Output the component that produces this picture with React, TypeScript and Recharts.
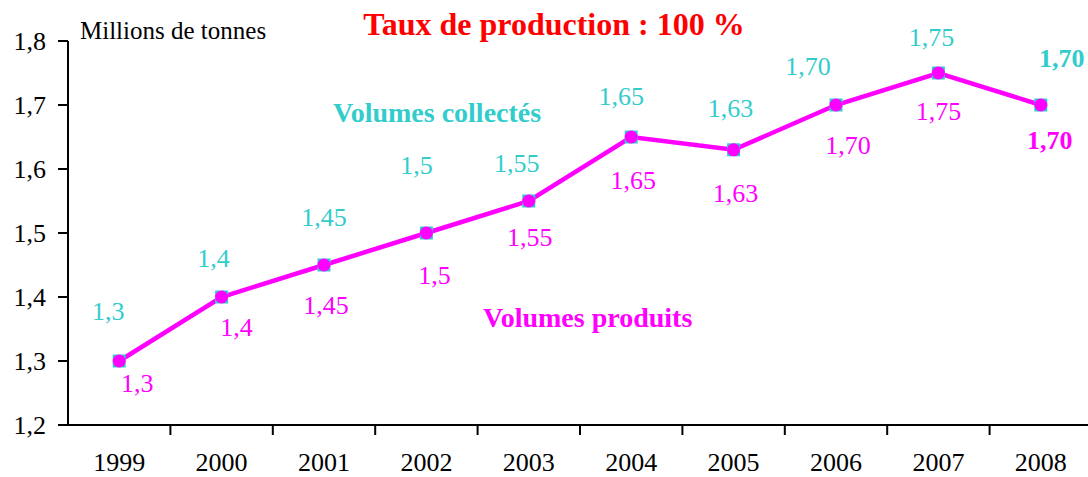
import { LineChart, Line, XAxis, YAxis, LabelList } from 'recharts';

const years = ['1999', '2000', '2001', '2002', '2003', '2004', '2005', '2006', '2007', '2008'];
const collected = [1.3, 1.4, 1.45, 1.5, 1.55, 1.65, 1.63, 1.7, 1.75, 1.7];
const produced = [1.3, 1.4, 1.45, 1.5, 1.55, 1.65, 1.63, 1.7, 1.75, 1.7];
const collectedLabels = ['1,3', '1,4', '1,45', '1,5', '1,55', '1,65', '1,63', '1,70', '1,75', '1,70'];
const producedLabels = ['1,3', '1,4', '1,45', '1,5', '1,55', '1,65', '1,63', '1,70', '1,75', '1,70'];
const yTicks = [1.2, 1.3, 1.4, 1.5, 1.6, 1.7, 1.8];
// half positions carry the year labels, whole positions the tick marks between years
const xTicks = [0.5, 1, 1.5, 2, 2.5, 3, 3.5, 4, 4.5, 5, 5.5, 6, 6.5, 7, 7.5, 8, 8.5, 9, 9.5];

const data = years.map((year, i) => ({
  year,
  slot: i + 0.5,
  collected: collected[i],
  produced: produced[i],
}));

// label nudges relative to each point, [dx, dy]
const cyanOffsets = [[-11, -50], [-8, -39], [0, -48], [-10, -68], [-12, -38], [-10, -41], [-3, -42], [-28, -39], [-7, -36], [21, -47]];
const magentaOffsets = [[18, 22], [15, 30], [2, 40], [8, 42], [1, 36], [2, 43], [2, 43], [12, 40], [0, 38], [9, 35]];

const CYAN = '#33CCCC';
const MAGENTA = '#FF00FF';
const SERIF = 'Liberation Serif, Tinos, Times New Roman, DejaVu Serif, serif';

function SquareDot({ cx, cy }: any) {
  if (cx == null || cy == null) return null;
  return <rect x={cx - 6.5} y={cy - 6.5} width={13} height={13} fill={CYAN} />;
}

function CircleDot({ cx, cy }: any) {
  if (cx == null || cy == null) return null;
  return <circle cx={cx} cy={cy} r={6.5} fill={MAGENTA} />;
}

function valueLabel(labels: string[], offsets: number[][], color: string) {
  return (props: any) => {
    const { x, y, index } = props;
    if (x == null || index == null) return null;
    const [dx, dy] = offsets[index];
    return (
      <text
        x={x + dx}
        y={y + dy}
        dy="0.35em"
        textAnchor="middle"
        fill={color}
        style={{ fontSize: 26, fontFamily: SERIF, fontWeight: index === labels.length - 1 ? 'bold' : 'normal' }}
      >
        {labels[index]}
      </text>
    );
  };
}

function YearTick({ x, y, payload }: any) {
  const v = payload.value;
  if (Number.isInteger(v)) {
    return <line x1={x} y1={y} x2={x} y2={y + 10} stroke="#000" strokeWidth={2} />;
  }
  return (
    <text x={x} y={y + 46} textAnchor="middle" fill="#000" style={{ fontSize: 26, fontFamily: SERIF }}>
      {years[Math.floor(v)]}
    </text>
  );
}

export default function App() {
  return (
    <div style={{ position: 'absolute', left: 0, top: 0, width: 1088, height: 477, overflow: 'hidden', background: '#fff', fontFamily: SERIF }}>
      <LineChart width={1092} height={477} data={data} margin={{ top: 41, right: 0, bottom: 0, left: 0 }}>
        <XAxis
          dataKey="slot"
          type="number"
          domain={[0, 10]}
          ticks={xTicks}
          interval={0}
          tickLine={false}
          tickSize={0}
          tickMargin={0}
          height={52}
          axisLine={{ stroke: '#000', strokeWidth: 2 }}
          tick={<YearTick />}
        />
        <YAxis
          type="number"
          domain={[1.2, 1.8]}
          ticks={yTicks}
          interval={0}
          width={68}
          tickSize={10}
          tickMargin={12}
          axisLine={{ stroke: '#000', strokeWidth: 2 }}
          tickLine={{ stroke: '#000', strokeWidth: 2 }}
          tick={{ fill: '#000', fontSize: 26, style: { fontFamily: SERIF } }}
          tickFormatter={(v: number) => v.toFixed(1).replace('.', ',')}
        />
        <Line
          dataKey="collected"
          stroke={CYAN}
          strokeWidth={2}
          dot={<SquareDot />}
          activeDot={false}
          isAnimationActive={false}
        >
          <LabelList dataKey="collected" content={valueLabel(collectedLabels, cyanOffsets, CYAN)} />
        </Line>
        <Line
          dataKey="produced"
          stroke={MAGENTA}
          strokeWidth={4.5}
          dot={<CircleDot />}
          activeDot={false}
          isAnimationActive={false}
        >
          <LabelList dataKey="produced" content={valueLabel(producedLabels, magentaOffsets, MAGENTA)} />
        </Line>
      </LineChart>
      <svg width={1088} height={477} style={{ position: 'absolute', left: 0, top: 0, pointerEvents: 'none', fontFamily: SERIF }}>
        <text x={554} y={35} textAnchor="middle" fill="#FF0000" style={{ fontSize: 32, fontWeight: 'bold' }}>
          Taux de production : 100 %
        </text>
        <text x={80} y={39} fill="#000" style={{ fontSize: 25 }}>
          Millions de tonnes
        </text>
        <text x={333} y={122} fill={CYAN} style={{ fontSize: 28, fontWeight: 'bold' }}>
          Volumes collectés
        </text>
        <text x={483} y={327} fill={MAGENTA} style={{ fontSize: 28, fontWeight: 'bold' }}>
          Volumes produits
        </text>
      </svg>
    </div>
  );
}
